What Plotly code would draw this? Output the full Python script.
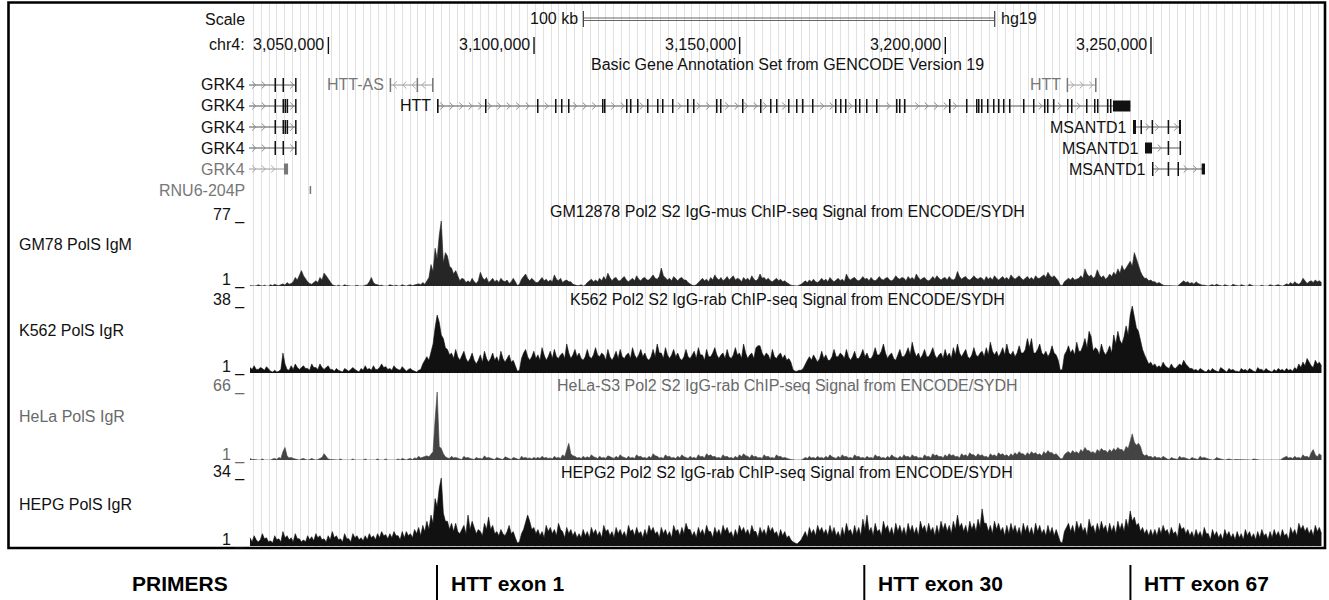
import plotly.graph_objects as go

W, H = 1329, 600
FONT = "Liberation Sans, Arial, Helvetica, sans-serif"

# ---------------- data ----------------
chrom_label = "chr4:"
view_start = 3030700
view_end = 3291580
pos_ticks = [3050000, 3100000, 3150000, 3200000, 3250000]
pos_tick_labels = ["3,050,000", "3,100,000", "3,150,000", "3,200,000", "3,250,000"]
scale_bar_start = 3112000
scale_bar_len = 100000
scale_bar_label = "100 kb"
assembly = "hg19"
gene_track_title = "Basic Gene Annotation Set from GENCODE Version 19"

bin_size = 500
gm12878_signal = [
    1.5, 1, 1, 1.2, 2.5, 1.5, 1, 2, 1, 1, 2.5, 1.5, 3, 2, 1.5, 2.5, 3.5, 2, 5, 3,
    4, 6, 11, 8, 14, 19, 13, 9, 6, 4, 3, 5, 7, 5, 11, 8, 16, 13, 9, 5,
    2.5, 1.5, 1, 2, 1, 1, 2.5, 1.5, 1, 1, 1, 1, 2, 1, 1, 1, 2, 2.5, 6, 11,
    5, 3, 2.5, 1.5, 2, 1, 1, 1, 2.5, 1.5, 1, 2, 1, 1, 2.5, 1.5, 1, 2, 2.5, 1.5,
    2, 2.5, 3.5, 2.5, 5, 3, 7, 11, 26, 18, 45, 33, 60, 77, 28, 40, 36, 24, 22, 15,
    19, 12, 7, 10, 9, 5, 7, 5, 10, 6, 4, 7, 17, 11, 8, 11, 5, 7, 10, 6,
    8, 5, 10, 7, 6, 8, 4, 6, 10, 6, 1.5, 3, 9, 12, 15, 10, 7, 10, 8, 5,
    5, 8, 11, 7, 9, 6, 8, 6, 14, 9, 7, 10, 5, 7, 8, 6, 6, 3, 2, 1.5,
    1.5, 2.5, 1, 2, 5, 7, 9, 6, 8, 6, 10, 7, 12, 8, 16, 11, 7, 10, 11, 7,
    7, 10, 12, 8, 6, 8, 10, 7, 13, 9, 7, 10, 11, 8, 8, 11, 14, 10, 9, 12,
    22, 13, 11, 8, 10, 7, 12, 9, 7, 10, 11, 8, 8, 5, 3, 2, 1.5, 2.5, 5, 7,
    10, 7, 9, 6, 11, 8, 14, 10, 8, 11, 7, 9, 12, 8, 10, 13, 8, 10, 9, 6,
    11, 8, 10, 7, 13, 9, 7, 9, 15, 10, 11, 8, 10, 7, 6, 8, 10, 7, 9, 6,
    7, 5, 3, 2, 1.5, 1, 1, 2, 3, 5, 7, 5, 8, 6, 9, 6, 5, 7, 10, 7,
    9, 6, 11, 8, 6, 8, 10, 7, 9, 6, 15, 10, 8, 10, 11, 8, 7, 9, 12, 9,
    10, 7, 11, 8, 7, 9, 12, 9, 8, 10, 11, 8, 7, 9, 13, 10, 9, 11, 10, 7,
    12, 9, 11, 8, 15, 11, 8, 10, 11, 8, 7, 9, 12, 9, 13, 10, 8, 10, 11, 8,
    12, 9, 8, 10, 18, 12, 9, 11, 12, 9, 8, 10, 13, 10, 9, 11, 10, 7, 12, 9,
    11, 8, 13, 10, 8, 10, 12, 9, 11, 8, 14, 11, 9, 11, 13, 10, 8, 10, 12, 9,
    11, 8, 13, 10, 10, 12, 14, 11, 17, 13, 11, 13, 10, 7, 2, 1.5, 6, 8, 10, 8,
    11, 8, 9, 10, 13, 10, 21, 15, 12, 14, 10, 12, 20, 14, 11, 13, 9, 11, 15, 12,
    17, 14, 21, 16, 25, 19, 22, 26, 30, 24, 40, 33, 24, 18, 13, 10, 10, 7, 8, 6,
    6, 4, 5, 3, 2, 1.5, 1.5, 1, 1, 1.5, 1, 1, 3, 5, 7, 5, 6, 4, 5, 3,
    6, 4, 3, 2, 2, 1.5, 1, 2, 2.5, 1.5, 3, 2, 1.5, 1, 2.5, 1.5, 1, 1, 3, 2,
    1.5, 1, 2.5, 1.5, 1, 1, 3, 2, 1, 1, 1, 1, 2, 1, 1, 1, 2.5, 1.5, 1, 2,
    2.5, 1.5, 1, 2, 3.5, 2.5, 5, 3, 6, 4, 3, 5, 10, 7, 4, 6, 7, 5, 8, 6, 7, 5,
]
k562_signal = [
    4, 3, 5, 3, 3, 4, 3.5, 2.5, 4.5, 3, 2, 1.5, 2.5, 1.5, 2, 3, 12, 6, 3, 2.5,
    5, 3, 6, 4, 3, 4, 5, 3.5, 3.5, 2.5, 6, 4, 4, 3, 6, 4, 3, 4, 5, 3,
    3, 2, 3.5, 2.5, 2, 1.5, 3.5, 2.5, 2, 3, 4, 3, 2, 1.5, 3.5, 2.5, 5, 3, 3.5, 2.5,
    5, 3, 3, 4, 6, 4, 4.5, 3, 3.5, 2.5, 5, 3.5, 3, 2.5, 4.5, 3, 2, 3, 3.5, 2.5,
    2, 1.5, 2.5, 3, 6, 8, 10, 8, 13, 17, 26, 33, 29, 22, 20, 15, 14, 11, 12, 9,
    14, 10, 8, 11, 13, 9, 7, 9, 12, 8, 6, 8, 11, 7, 13, 9, 7, 9, 12, 8,
    10, 7, 13, 9, 7, 9, 11, 7, 8, 5, 2, 2.5, 9, 12, 14, 10, 8, 10, 13, 9,
    11, 8, 15, 11, 8, 10, 13, 9, 14, 10, 9, 11, 12, 9, 17, 12, 9, 11, 14, 10,
    12, 9, 8, 10, 14, 10, 9, 11, 15, 11, 10, 12, 11, 8, 14, 10, 8, 10, 13, 9,
    14, 10, 9, 11, 12, 9, 15, 11, 9, 11, 14, 10, 12, 9, 8, 10, 14, 10, 17, 12,
    12, 9, 15, 11, 9, 11, 14, 10, 12, 9, 8, 10, 14, 10, 9, 11, 13, 9, 15, 11,
    11, 8, 14, 10, 10, 12, 15, 11, 9, 11, 12, 9, 14, 10, 9, 11, 15, 11, 12, 9,
    17, 12, 9, 11, 12, 9, 15, 16, 16, 12, 10, 12, 11, 8, 14, 10, 9, 11, 12, 9,
    11, 8, 9, 7, 3, 2, 2, 2.5, 2.5, 3.5, 6, 8, 10, 8, 11, 9, 7, 9, 13, 9,
    11, 8, 8, 10, 14, 10, 10, 12, 11, 9, 14, 10, 8, 10, 13, 9, 9, 11, 14, 10,
    12, 9, 9, 11, 15, 11, 11, 13, 17, 12, 9, 11, 12, 9, 8, 11, 14, 10, 10, 12,
    15, 11, 18, 13, 10, 12, 9, 11, 14, 10, 10, 12, 15, 11, 9, 11, 12, 9, 14, 10,
    12, 9, 15, 11, 17, 12, 10, 12, 14, 10, 9, 11, 15, 11, 10, 12, 13, 10, 15, 11,
    18, 13, 11, 13, 10, 12, 15, 11, 17, 12, 11, 13, 10, 12, 16, 12, 12, 14, 20, 15,
    20, 12, 12, 14, 17, 12, 11, 13, 10, 12, 16, 12, 11, 8, 2.5, 3, 11, 13, 16, 12,
    14, 11, 18, 13, 13, 16, 20, 15, 24, 21, 13, 15, 14, 11, 17, 13, 11, 13, 16, 12,
    22, 17, 24, 19, 17, 21, 27, 22, 33, 38, 31, 26, 24, 18, 14, 11, 8, 6, 7, 5,
    6, 4, 5, 4, 7, 5, 4, 3.5, 6, 4, 3.5, 4.5, 6, 5, 8, 6, 4.5, 3.5, 3.5, 2.5,
    3, 2, 3.5, 2.5, 2, 1.5, 3, 2, 3.5, 2.5, 2, 1.5, 4, 3, 2, 1.5, 3.5, 2.5, 3, 2,
    2, 1.5, 3.5, 2.5, 3, 2, 3.5, 2.5, 2, 1.5, 4, 3, 3, 2, 3.5, 2.5, 2, 1.5, 3, 2,
    3.5, 2.5, 3, 2, 3.5, 2.5, 3, 2, 4, 3, 6, 4, 7, 5, 9, 7, 5, 4, 8, 6, 7, 5,
]
hela_signal = [
    2.5, 1.5, 1.5, 1, 1, 1, 2, 1, 1, 1, 1, 2, 2.5, 1.5, 3.5, 2.5, 9, 13, 5, 3,
    3.5, 2.5, 2, 1.5, 1, 2, 2.5, 1.5, 1, 1.5, 2.5, 1.5, 1, 1.5, 2.5, 3.5, 7, 4, 2, 1.5,
    1.5, 1, 1, 1, 2, 1, 1, 1, 1, 1, 2, 1, 1, 1, 1, 1, 2, 1, 1, 1,
    1, 1, 2, 1, 1, 1, 2, 1, 1, 1, 1, 1, 2, 1, 2.5, 1.5, 1, 2, 2.5, 1.5,
    3, 2.5, 4.5, 3, 3.5, 4.5, 5, 4, 7, 9, 40, 66, 14, 12, 7, 4, 3, 2.5, 4.5, 3,
    3.5, 2.5, 2, 1.5, 4.5, 3, 3.5, 2.5, 2, 1.5, 3.5, 2.5, 2.5, 2, 5, 3, 3.5, 2.5, 2, 1.5,
    3.5, 2.5, 2, 1.5, 4, 3, 2, 1.5, 3.5, 2.5, 2, 1.5, 4.5, 3, 3.5, 2.5, 3, 2, 3.5, 2.5,
    3.5, 2.5, 4.5, 3, 3.5, 2.5, 3, 2, 4.5, 3, 3.5, 2.5, 6, 4, 11, 17, 7, 5, 4.5, 3,
    3.5, 2.5, 4.5, 3, 4, 3, 6, 4, 3.5, 2.5, 4.5, 3, 3.5, 2.5, 5, 4, 3.5, 2.5, 4.5, 3,
    6, 4, 3.5, 2.5, 4.5, 3, 3.5, 2.5, 6, 4, 4.5, 3, 3.5, 2.5, 4.5, 3, 7, 5, 4.5, 3,
    3.5, 2.5, 6, 4, 4.5, 3, 3.5, 2.5, 4.5, 3, 6, 4, 3.5, 2.5, 4.5, 3, 3.5, 2.5, 6, 4,
    4.5, 3, 7, 5, 6, 4, 4.5, 3, 3.5, 2.5, 6, 4, 4.5, 3, 3.5, 2.5, 4.5, 3, 6, 4,
    7, 5, 4.5, 3, 6, 4, 4.5, 3, 3.5, 2.5, 6, 4, 4.5, 3, 3.5, 2.5, 6, 4, 4.5, 3,
    3.5, 2.5, 2, 1.5, 1, 1, 1, 1, 1, 2, 3.5, 2.5, 4.5, 3, 3.5, 2.5, 4.5, 3, 3.5, 2.5,
    4.5, 3, 6, 4, 3.5, 2.5, 4.5, 3, 6, 4, 4.5, 3, 3.5, 2.5, 6, 4, 4.5, 3, 3.5, 2.5,
    4.5, 3, 3.5, 2.5, 6, 4, 4.5, 3, 3.5, 2.5, 4.5, 3, 6, 4, 3.5, 2.5, 4.5, 3, 6, 4,
    4.5, 3, 6, 4, 4.5, 3, 3.5, 2.5, 6, 4, 4.5, 3, 7, 5, 6, 4, 4.5, 3, 6, 4,
    7, 5, 6, 4, 4.5, 3, 7, 5, 6, 4, 8, 6, 6, 4, 7, 5, 6, 4, 4.5, 3,
    7, 5, 6, 4, 8, 6, 7, 5, 6, 4, 7, 5, 8, 6, 9, 7, 7, 5, 8, 6,
    9, 7, 8, 6, 7, 5, 9, 7, 10, 8, 8, 6, 7, 5, 2.5, 2, 6, 8, 9, 7,
    10, 8, 9, 7, 11, 9, 13, 10, 10, 8, 9, 7, 11, 9, 12, 10, 10, 8, 11, 9,
    12, 10, 13, 11, 11, 9, 14, 12, 20, 26, 18, 15, 17, 14, 7, 5, 6, 4, 4.5, 3,
    4.5, 3, 3.5, 2.5, 4.5, 3, 2, 1.5, 3.5, 2.5, 2, 1.5, 4.5, 3, 3.5, 2.5, 2, 1.5, 3.5, 2.5,
    2, 1.5, 4.5, 3, 3.5, 2.5, 2, 1.5, 1, 1.5, 3.5, 2.5, 2, 1.5, 1, 1.5, 2, 1.5, 1, 1.5,
    1.5, 1, 1, 1, 1, 1, 1, 1, 2, 1.5, 1, 1, 1, 1, 1.5, 1, 1, 1, 1, 1,
    1, 1, 2.5, 3.5, 4.5, 3, 3.5, 2.5, 4.5, 3, 3.5, 2.5, 6, 4, 4.5, 3, 8, 11, 6, 4, 7, 5,
]
hepg2_signal = [
    5, 3, 6, 4, 3, 4, 7, 4.5, 5, 3, 3.5, 2.5, 6, 4, 4.5, 3, 8, 5, 6, 4,
    5, 3, 7, 4.5, 4.5, 3, 4, 3, 6, 4, 5.5, 3.5, 7, 5, 6, 4, 4.5, 3, 6, 4,
    8, 5, 6, 4, 4.5, 3, 7, 4.5, 4.5, 3, 7, 5, 6, 4, 5, 3.5, 6, 4, 7, 5,
    6, 4, 7, 5, 8, 6, 6.5, 4.5, 7, 5, 8, 6, 6, 4, 8, 5, 8, 6, 7, 5,
    9, 7, 10, 6, 11, 8, 13, 9, 16, 12, 24, 20, 29, 34, 17, 13, 13, 9, 12, 8,
    12, 8, 7, 9, 11, 7, 16, 9, 13, 10, 7, 9, 8, 6, 12, 9, 15, 9, 11, 7,
    8, 6, 9, 7, 6, 8, 11, 7, 8, 5, 2.5, 3, 7, 9, 12, 16, 13, 9, 10, 7,
    9, 6, 8, 5, 11, 8, 10, 7, 9, 6, 12, 9, 8, 5, 10, 7, 9, 6, 8, 5,
    7, 5, 9, 6, 8, 5, 10, 7, 9, 6, 8, 5, 11, 8, 9, 6, 8, 5, 10, 7,
    9, 6, 8, 5, 11, 8, 9, 6, 10, 7, 8, 5, 9, 6, 11, 8, 10, 7, 8, 5,
    10, 7, 9, 6, 8, 5, 11, 8, 9, 6, 10, 7, 12, 9, 9, 6, 8, 5, 10, 7,
    9, 6, 11, 8, 8, 5, 10, 7, 9, 6, 11, 8, 10, 7, 8, 5, 9, 6, 11, 8,
    10, 7, 9, 6, 11, 8, 8, 5, 10, 7, 9, 6, 11, 8, 10, 7, 8, 5, 9, 6,
    8, 5, 6, 4, 3, 2.5, 2, 3, 4, 6, 8, 5, 10, 7, 9, 6, 11, 8, 10, 7,
    9, 6, 11, 7, 10, 6, 8, 5, 10, 6, 12, 8, 9, 6, 11, 7, 10, 6, 14, 9,
    16, 8, 10, 6, 12, 8, 9, 6, 13, 9, 11, 7, 10, 6, 12, 8, 11, 7, 10, 6,
    12, 8, 11, 7, 10, 6, 13, 9, 11, 7, 12, 8, 10, 6, 11, 7, 13, 9, 12, 8,
    11, 7, 13, 9, 16, 10, 12, 8, 11, 7, 13, 9, 12, 8, 14, 10, 19, 12, 12, 8,
    11, 7, 13, 9, 12, 8, 10, 6, 11, 7, 12, 8, 11, 7, 10, 6, 12, 8, 11, 7,
    10, 6, 12, 8, 11, 7, 9, 6, 11, 7, 10, 6, 9, 6, 3, 2.5, 8, 10, 12, 8,
    11, 7, 13, 9, 12, 8, 10, 6, 14, 10, 11, 7, 12, 8, 13, 9, 11, 7, 12, 8,
    11, 7, 13, 9, 12, 8, 14, 10, 18, 13, 15, 11, 12, 8, 10, 7, 9, 6, 9, 6,
    9, 6, 10, 7, 11, 8, 9, 6, 10, 7, 8, 5, 12, 9, 10, 7, 9, 6, 8, 5,
    9, 6, 8, 5, 10, 7, 7, 4, 9, 6, 8, 5, 7, 4, 9, 6, 8, 5, 7, 4,
    8, 5, 7, 4, 9, 6, 8, 5, 7, 4, 8, 5, 9, 6, 7, 4, 8, 5, 9, 6,
    8, 5, 9, 6, 7, 4, 10, 7, 9, 6, 12, 9, 11, 8, 10, 7, 9, 6, 11, 8, 10, 7,
]
track_signals = [gm12878_signal, k562_signal, hela_signal, hepg2_signal]
track_short_names = ["GM78 PolS IgM", "K562 PolS IgR", "HeLa PolS IgR", "HEPG PolS IgR"]
track_titles = [
    "GM12878 Pol2 S2 IgG-mus ChIP-seq Signal from ENCODE/SYDH",
    "K562 Pol2 S2 IgG-rab ChIP-seq Signal from ENCODE/SYDH",
    "HeLa-S3 Pol2 S2 IgG-rab ChIP-seq Signal from ENCODE/SYDH",
    "HEPG2 Pol2 S2 IgG-rab ChIP-seq Signal from ENCODE/SYDH",
]
track_max = [77, 38, 66, 34]
track_min = 1

gene_names = ["GRK4", "GRK4", "GRK4", "GRK4", "GRK4", "RNU6-204P",
              "HTT-AS", "HTT", "HTT", "MSANTD1", "MSANTD1", "MSANTD1"]
gene_rows = [1, 2, 3, 4, 5, 6, 1, 2, 1, 3, 4, 5]
gene_starts = [2965000, 2965000, 2965000, 2965000, 2965000, 3045450,
               3064981, 3076408, 3229580, 3245627, 3248544, 3250246]
gene_ends = [3042130, 3042130, 3042130, 3042130, 3040200, 3045560,
             3075436, 3245000, 3236631, 3257300, 3257150, 3263130]
gene_strands = ["+", "+", "+", "+", "+", "+", "-", "+", "+", "+", "+", "+"]
gene_exons = [
    [[3036900, 3037150], [3038850, 3039100], [3041900, 3042130]],
    [[3036900, 3037150], [3038850, 3039100], [3039350, 3039550], [3039850, 3040050], [3041900, 3042130]],
    [[3036900, 3037150], [3038850, 3039100], [3039350, 3039550], [3039850, 3040050], [3041900, 3042130]],
    [[3036900, 3037150], [3038850, 3039100], [3041900, 3042130]],
    [[3039200, 3040200]],
    [[3045450, 3045560]],
    [[3064900, 3065150], [3071450, 3071650], [3075200, 3075436]],
    [[3076408, 3076800], [3088079, 3088329], [3100721, 3100971], [3105098, 3105348],
     [3106557, 3106807], [3108258, 3108508], [3116525, 3116775], [3117011, 3117261],
     [3122360, 3122610], [3123333, 3123583], [3125034, 3125284], [3127466, 3127716],
     [3129897, 3130147], [3131113, 3131363], [3133544, 3133794], [3137191, 3137441],
     [3138650, 3138900], [3144242, 3144492], [3145214, 3145464], [3150563, 3150813],
     [3154939, 3155189], [3157371, 3157621], [3158830, 3159080], [3161747, 3161997],
     [3163692, 3163942], [3165151, 3165401], [3167582, 3167832], [3173174, 3173424],
     [3174390, 3174640], [3175605, 3175855], [3178037, 3178287], [3179009, 3179259],
     [3180711, 3180961], [3183143, 3183393], [3188005, 3188255], [3188735, 3188985],
     [3189950, 3190200], [3200891, 3201141], [3205024, 3205274], [3207456, 3207706],
     [3207942, 3208192], [3208671, 3208921], [3210130, 3210380], [3211589, 3211839],
     [3212804, 3213054], [3214020, 3214270], [3215479, 3215729], [3218883, 3219133],
     [3221314, 3221564], [3223988, 3224238], [3224718, 3224968], [3226177, 3226427],
     [3229580, 3229830], [3230553, 3230803], [3234200, 3234450], [3236145, 3236395],
     [3236874, 3237124], [3239306, 3239556], [3240035, 3240285], [3240764, 3245000]],
    [[3229500, 3229750], [3236400, 3236631]],
    [[3245627, 3246356], [3247450, 3247650], [3250150, 3250350], [3254050, 3254250], [3256800, 3257300]],
    [[3248544, 3250246], [3254050, 3254250], [3256950, 3257150]],
    [[3250246, 3250450], [3254050, 3254250], [3256450, 3256650], [3262320, 3263130]],
]
gene_is_gray = [False, False, False, False, True, True, True, False, True, False, False, False]
gene_label_in_margin = [True, True, True, True, True, True, False, False, False, False, False, False]

primer_positions = [3076408, 3180300, 3245000]
primer_labels = ["HTT exon 1", "HTT exon 30", "HTT exon 67"]
primer_header = "PRIMERS"

# ---------------- layout constants (pixels) ----------------
DATA_L, DATA_R = 249, 1322
BP_PER_PX = (view_end - view_start) / (DATA_R - DATA_L)
ROW_Y0, ROW_DY = 85, 21
track_px = [(221, 286), (306, 373), (392, 460), (478, 546)]   # (top, bottom)
track_top_label_y = [215, 300, 386, 472]
track_bot_label_y = [280, 367, 455, 540]
track_title_y = [212, 299, 385, 472]
track_name_y = [244, 330, 417, 504]
track_colors = ["#262626", "#111111", "#444444", "#111111"]
track_text_colors = ["#111111", "#111111", "#6a6a6a", "#111111"]
BLACK = "#111111"
GRAY = "#777777"


def py(y):
    return 1 - y / H


def bp(px_):
    return px_ * BP_PER_PX


fig = go.Figure()

# ---- signal tracks (filled wiggle) ----
for k, vals in enumerate(track_signals):
    xs = [view_start + bin_size * (i + 0.5) for i in range(len(vals))]
    fig.add_trace(go.Scatter(
        x=xs, y=vals, mode="lines", fill="tozeroy", xaxis="x", yaxis="y%d" % (k + 2),
        line=dict(color=track_colors[k], width=0.6), fillcolor=track_colors[k],
        hoverinfo="skip", showlegend=False))

# ---- genes ----
for g in range(len(gene_names)):
    yrow = ROW_Y0 + ROW_DY * (gene_rows[g] - 1)
    gray = gene_is_gray[g]
    ex_col = GRAY if gray else BLACK
    ln_col = "#9a9a9a" if gray else "#555555"
    ch_col = "#a8a8a8" if gray else "#8a8a8a"
    s = max(gene_starts[g], view_start)
    e = gene_ends[g]
    fig.add_trace(go.Scatter(x=[s, e], y=[yrow, yrow], mode="lines",
                             line=dict(color=ln_col, width=1), xaxis="x", yaxis="y",
                             hoverinfo="skip", showlegend=False))
    half = 4 if gene_names[g].startswith("RNU6") else 7
    rx, ry = [], []
    for (a, b) in gene_exons[g]:
        if b - a < bp(1.5):
            b = a + bp(1.5)
        hh = half if (b - a) < bp(3) else half - 1.5
        rx += [a, b, b, a, a, None]
        ry += [yrow - hh, yrow - hh, yrow + hh, yrow + hh, yrow - hh, None]
    fig.add_trace(go.Scatter(x=rx, y=ry, mode="lines", fill="toself", fillcolor=ex_col,
                             line=dict(color=ex_col, width=0), xaxis="x", yaxis="y",
                             hoverinfo="skip", showlegend=False))
    cx, cy = [], []
    pos = s + bp(5)
    while pos < e - bp(3):
        near = any((a - bp(2.5)) <= pos <= (max(b, a + bp(1.5)) + bp(2.5)) for a, b in gene_exons[g])
        if not near:
            d = bp(1.8) if gene_strands[g] == "+" else -bp(1.8)
            cx += [pos - d, pos + d, pos - d, None]
            cy += [yrow - 3.5, yrow, yrow + 3.5, None]
        pos += bp(9.5)
    if cx:
        fig.add_trace(go.Scatter(x=cx, y=cy, mode="lines", line=dict(color=ch_col, width=1),
                                 xaxis="x", yaxis="y", hoverinfo="skip", showlegend=False))

annotations = []
shapes = []


def txt(t, x, y, xref="paper", anchor="left", size=16, color=BLACK, bold=False, xshift=0):
    if xref == "paper":
        x = x / W
    if bold:
        t = "<b>%s</b>" % t
    annotations.append(dict(text=t, x=x, y=py(y), xref=xref, yref="paper", xanchor=anchor,
                            yanchor="middle", showarrow=False, xshift=xshift,
                            font=dict(family=FONT, size=size, color=color)))


for g in range(len(gene_names)):
    yrow = ROW_Y0 + ROW_DY * (gene_rows[g] - 1)
    col = GRAY if gene_is_gray[g] else BLACK
    if gene_label_in_margin[g]:
        txt(gene_names[g], 247, yrow, anchor="right", color=col)
    else:
        txt(gene_names[g], gene_starts[g], yrow, xref="x", anchor="right", color=col, xshift=-4)

txt("Scale", 247, 20, anchor="right")
txt(chrom_label, 247, 45, anchor="right")
for t, lab in zip(pos_ticks, pos_tick_labels):
    txt(lab, t, 45, xref="x", anchor="right", xshift=-2)
    shapes.append(dict(type="line", xref="x", yref="paper", x0=t, x1=t, y0=py(54), y1=py(37),
                       line=dict(color=BLACK, width=1.4)))
sb0, sb1 = scale_bar_start, scale_bar_start + scale_bar_len
txt(scale_bar_label, sb0, 19, xref="x", anchor="right", xshift=-3)
txt(assembly, sb1, 19, xref="x", anchor="left", xshift=4)
for yy in (18, 20.5):
    shapes.append(dict(type="line", xref="x", yref="paper", x0=sb0, x1=sb1, y0=py(yy), y1=py(yy),
                       line=dict(color="#666666", width=1)))
for xx in (sb0, sb1):
    shapes.append(dict(type="line", xref="x", yref="paper", x0=xx, x1=xx, y0=py(27), y1=py(11),
                       line=dict(color="#444444", width=1.2)))
txt(gene_track_title, (DATA_L + DATA_R) / 2 + 2, 64, anchor="center")

for k in range(4):
    c = track_text_colors[k]
    txt(track_titles[k], (DATA_L + DATA_R) / 2 + 2, track_title_y[k], anchor="center", color=c)
    txt(track_short_names[k], 17, track_name_y[k], anchor="left", color=c)
    txt("%d _" % track_max[k], 247, track_top_label_y[k], anchor="right", color=c)
    txt("%d _" % track_min, 247, track_bot_label_y[k], anchor="right", color=c)

shapes.append(dict(type="rect", xref="paper", yref="paper", x0=8.5 / W, x1=1325 / W,
                   y0=py(548), y1=py(2.5), line=dict(color="#000000", width=2.6), layer="above"))

txt(primer_header, 180, 583, anchor="center", size=21, bold=True, color="#000000")
for p, lab in zip(primer_positions, primer_labels):
    shapes.append(dict(type="line", xref="x", yref="paper", x0=p, x1=p, y0=0, y1=py(565),
                       line=dict(color="#000000", width=2)))
    txt(lab, p, 583, xref="x", anchor="left", size=21, bold=True, color="#000000", xshift=12)

layout = dict(
    width=W, height=H, margin=dict(l=0, r=0, t=0, b=0),
    paper_bgcolor="white", plot_bgcolor="rgba(0,0,0,0)",
    showlegend=False,
    xaxis=dict(domain=[DATA_L / W, DATA_R / W], range=[view_start, view_end], anchor="y",
               showgrid=True, gridcolor="#e1e1e1", gridwidth=1,
               tick0=view_start + bp(4.5), dtick=bp(7.83),
               showticklabels=False, ticks="", zeroline=False, showline=False, fixedrange=True),
    yaxis=dict(domain=[py(547), py(4)], range=[547, 4], visible=False, showgrid=False,
               zeroline=False, fixedrange=True),
    annotations=annotations, shapes=shapes,
)
for k in range(4):
    top, bot = track_px[k]
    layout["yaxis%d" % (k + 2)] = dict(domain=[py(bot), py(top)], range=[track_min, track_max[k]],
                                       visible=False, showgrid=False, zeroline=False,
                                       fixedrange=True, anchor="x")
fig.update_layout(**layout)
fig.write_html("out.html", config={"displayModeBar": False},
               post_script="document.body.style.margin='0px';document.body.style.overflow='hidden';")
